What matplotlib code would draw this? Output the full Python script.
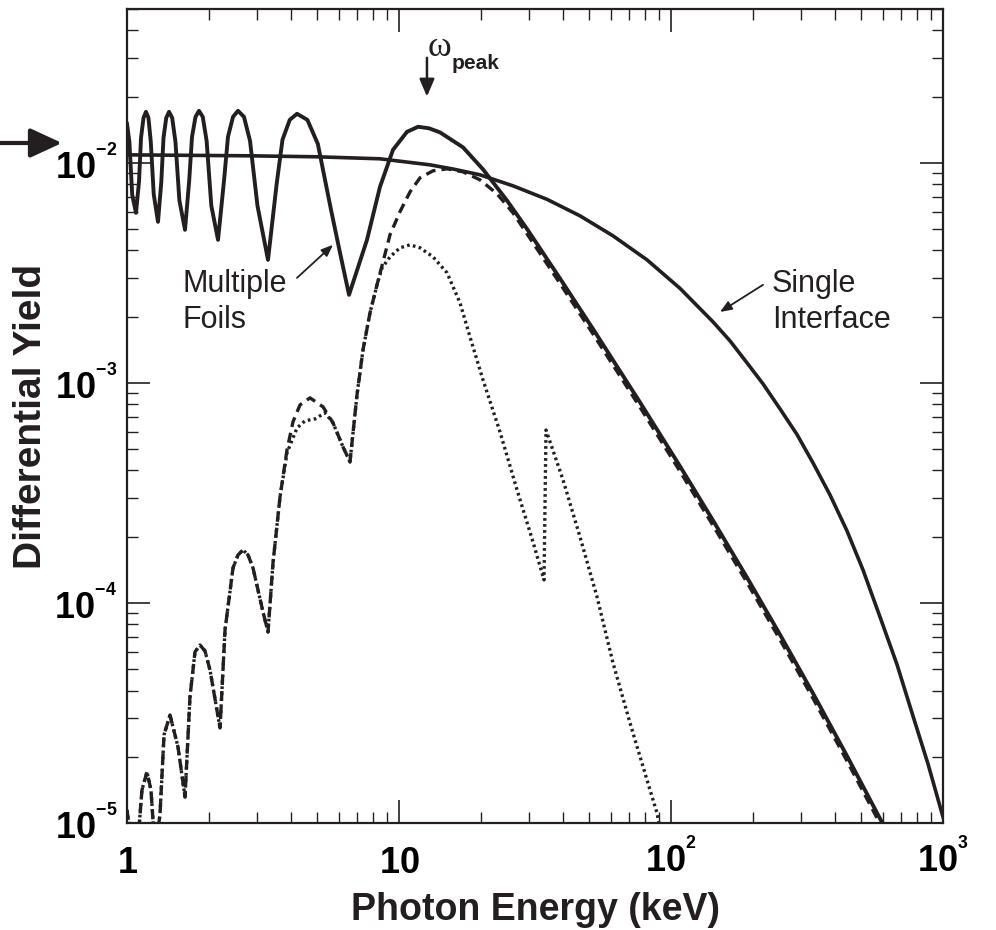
import numpy as np
import matplotlib
matplotlib.use("Agg")
import matplotlib.pyplot as plt
from matplotlib.ticker import FixedLocator, FuncFormatter, LogLocator, NullFormatter
from matplotlib.transforms import ScaledTranslation

plt.rcParams['font.family'] = ['Liberation Sans', 'DejaVu Sans']
plt.rcParams['mathtext.fontset'] = 'custom'
plt.rcParams['mathtext.rm'] = 'Liberation Sans'
plt.rcParams['mathtext.bf'] = 'Liberation Sans:bold'
plt.rcParams['mathtext.it'] = 'Liberation Sans:italic'

INK = '#231f20'

# single interface (solid, smooth)
single_e = [1.000, 2.833, 5.00, 8.514, 13.00, 16.00, 19.85, 26.25, 35.00, 46.29,
            61.20, 81.62, 107.9, 142.7, 164.8, 190.3, 217.9, 251.6, 290.5, 332.7,
            384.2, 443.7, 508.0, 586.7, 677.5, 775.6, 881.0, 1000]
single_y = [0.01087, 0.01076, 0.01065, 0.01043, 0.00979, 0.009343, 0.00882, 0.007860,
            0.006825, 0.005742, 0.004658, 0.003623, 0.002689, 0.001894, 0.001552,
            0.001233, 9.90e-4, 7.62e-4, 5.83e-4, 4.33e-4, 3.097e-4, 2.125e-4,
            1.413e-4, 8.64e-5, 5.25e-5, 3.064e-5, 1.854e-5, 1.065e-5]

# multiple foils (solid, oscillating)
multi_e = [1.000, 1.0205, 1.045, 1.079, 1.107, 1.126, 1.150, 1.174, 1.199, 1.223,
           1.254, 1.300, 1.337, 1.362, 1.394, 1.427, 1.466, 1.507, 1.558, 1.634,
           1.693, 1.734, 1.786, 1.839, 1.899, 1.962, 2.042, 2.161, 2.273, 2.351,
           2.453, 2.559, 2.692, 2.833, 3.018, 3.299, 3.550, 3.729, 3.966, 4.217,
           4.604, 5.029, 5.615, 6.070, 6.551, 7.626, 8.514, 9.504, 10.70, 11.75,
           12.89, 14.15, 17.19, 20.36, 24.95, 29.56, 39.07, 51.68, 76.91, 107.9,
           142.7, 190.3, 251.6, 332.7, 443.7, 586.7, 638.5]
multi_y = [0.01504, 0.01246, 0.007153, 0.005925, 0.008199, 0.01299, 0.01601, 0.01705,
           0.01601, 0.01246, 0.007191, 0.005393, 0.008199, 0.01299, 0.01601, 0.01705,
           0.01601, 0.01246, 0.006755, 0.004960, 0.008286, 0.01313, 0.01618, 0.01723,
           0.01618, 0.01259, 0.006375, 0.004467, 0.008286, 0.01313, 0.01618, 0.01723,
           0.01618, 0.01259, 0.006375, 0.003623, 0.008025, 0.01272, 0.01568, 0.01670,
           0.01568, 0.01220, 0.006178, 0.003899, 0.002512, 0.004467, 0.007779, 0.01146,
           0.01383, 0.01458, 0.01435, 0.01375, 0.01176, 0.009343, 0.006740, 0.005006,
           0.002982, 0.001758, 8.16e-4, 4.18e-4, 2.371e-4, 1.305e-4, 7.18e-5, 3.883e-5,
           2.016e-5, 1.047e-5, 8.58e-6]

# low-energy part shared by the dashed and dotted curves
low_e = [1.000, 1.034, 1.098, 1.135, 1.184, 1.225, 1.267, 1.322, 1.368, 1.439,
         1.540, 1.634, 1.704, 1.778, 1.855, 1.935, 2.019, 2.198, 2.293, 2.453,
         2.559, 2.670, 2.786, 2.906, 3.162, 3.299, 3.442, 3.652]
low_y = [1.146e-5, 8.37e-6, 8.37e-6, 1.413e-5, 1.705e-5, 1.413e-5, 7.54e-6, 1.087e-5,
         2.512e-5, 3.097e-5, 2.215e-5, 1.313e-5, 3.737e-5, 5.99e-5, 6.44e-5, 6.05e-5,
         4.96e-5, 2.702e-5, 7.54e-5, 1.442e-4, 1.652e-4, 1.741e-4, 1.652e-4, 1.442e-4,
         9.10e-5, 7.38e-5, 1.520e-4, 3.03e-4]

dash_e = [3.875, 4.076, 4.325, 4.708, 5.256, 5.720, 6.224, 6.604, 7.008, 7.373,
          7.823, 8.301, 8.733, 9.267, 10.08, 10.98, 11.95, 13.34, 15.02, 17.19,
          19.85, 22.93, 26.25, 31.09, 39.07, 51.68, 76.91, 107.9, 142.7, 190.3,
          251.6, 332.7, 443.7, 586.7, 638.5]
dash_y = [4.96e-4, 6.65e-4, 7.94e-4, 8.55e-4, 7.78e-4, 6.58e-4, 5.12e-4, 4.375e-4,
          8.82e-4, 1.413e-3, 2.080e-3, 2.790e-3, 3.548e-3, 4.71e-3, 5.99e-3, 7.38e-3,
          8.55e-3, 9.20e-3, 9.39e-3, 9.10e-3, 8.37e-3, 7.23e-3, 5.925e-3, 4.329e-3,
          2.830e-3, 1.668e-3, 7.75e-4, 3.964e-4, 2.25e-4, 1.238e-4, 6.81e-5, 3.685e-5,
          1.913e-5, 9.93e-6, 8.2e-6]

dot_e = [3.875, 4.217, 4.512, 4.912, 5.346, 5.720, 6.224, 6.604, 7.008, 7.373,
         7.823, 8.301, 8.660, 9.267, 10.08, 10.98, 11.95, 13.34, 15.02, 16.76,
         18.24, 20.36, 23.51, 27.16, 31.09, 34.13, 34.71, 40.09, 46.29, 53.46,
         61.20, 70.68, 81.62, 88.83, 92.67]
dot_y = [4.81e-4, 6.24e-4, 6.72e-4, 6.86e-4, 7.31e-4, 6.58e-4, 5.12e-4, 4.375e-4,
         8.82e-4, 1.413e-3, 2.080e-3, 2.790e-3, 3.331e-3, 3.738e-3, 4.108e-3, 4.24e-3,
         4.108e-3, 3.738e-3, 3.162e-3, 2.310e-3, 1.618e-3, 1.032e-3, 5.99e-4, 3.263e-4,
         1.894e-4, 1.272e-4, 6.11e-4, 3.623e-4, 1.995e-4, 1.065e-4, 5.34e-5, 2.848e-5,
         1.569e-5, 1.11e-5, 8.37e-6]

x_ticks = [1, 10, 100, 1000]
y_ticks = [1e-5, 1e-4, 1e-3, 1e-2]


def x_label(v, pos):
    n = int(round(np.log10(v)))
    if n == 0:
        return r'$\mathbf{1}$'
    if n == 1:
        return r'$\mathbf{10}$'
    return r'$\mathbf{10^{{}^{%d}}}$' % n


def y_label(v, pos):
    n = int(round(np.log10(v)))
    return r'$\mathbf{10^{{}^{%d}}}$' % n


fig = plt.figure(figsize=(9.96, 9.30), dpi=100)
ax = fig.add_axes([127 / 996, 107 / 930, 816 / 996, 814 / 930])

ax.plot(single_e, single_y, color=INK, lw=2.6)
ax.plot(multi_e, multi_y, color=INK, lw=2.8)
ax.plot(low_e + dash_e, low_y + dash_y, color=INK, lw=2.4, ls=(0, (3, 1.8)))
ax.plot(low_e + dot_e, low_y + dot_y, color=INK, lw=2.4, ls=(0, (0.8, 1.0)))

ax.set_xscale('log')
ax.set_yscale('log')
ax.set_xlim(1, 1000)
ax.set_ylim(1e-5, 5e-2)

ax.xaxis.set_major_locator(FixedLocator(x_ticks))
ax.yaxis.set_major_locator(FixedLocator(y_ticks))
ax.xaxis.set_minor_locator(LogLocator(base=10, subs=np.arange(2, 10), numticks=20))
ax.yaxis.set_minor_locator(LogLocator(base=10, subs=np.arange(2, 10), numticks=20))
ax.xaxis.set_major_formatter(FuncFormatter(x_label))
ax.yaxis.set_major_formatter(FuncFormatter(y_label))
ax.xaxis.set_minor_formatter(NullFormatter())
ax.yaxis.set_minor_formatter(NullFormatter())

for s in ax.spines.values():
    s.set_linewidth(1.6)
    s.set_color(INK)

ax.tick_params(which='both', direction='in', top=True, right=True, color=INK)
ax.tick_params(which='major', length=16.5, width=1.2, labelsize=26)
ax.tick_params(which='minor', length=8, width=1.0)
ax.tick_params(axis='x', which='major', pad=36)
ax.tick_params(axis='y', which='major', pad=7)

# baseline-aligned tick labels like the original
for lab in ax.get_xticklabels():
    lab.set_va('baseline')
for lab in ax.get_yticklabels():
    lab.set_va('baseline')
    lab.set_transform(lab.get_transform() + ScaledTranslation(0, -0.17, fig.dpi_scale_trans))

ax.set_xlabel('Photon Energy (keV)', fontsize=27, fontweight='bold', labelpad=8, color=INK)
ax.set_ylabel('Differential Yield', fontsize=28, fontweight='bold', labelpad=4, color=INK)

# annotations
ax.text(1.593, 2.334e-3, 'Multiple\nFoils', fontsize=22, ha='left', va='center',
        linespacing=1.28, color=INK)
ax.annotate('', xy=(5.72, 4.24e-3), xytext=(4.217, 3.0e-3),
            arrowprops=dict(arrowstyle='-|>,head_length=0.5,head_width=0.2',
                            mutation_scale=14, lw=1.3, color=INK, shrinkA=0, shrinkB=0))

ax.text(235, 2.334e-3, 'Single\nInterface', fontsize=22, ha='left', va='center',
        linespacing=1.28, color=INK)
ax.annotate('', xy=(151.4, 2.10e-3), xytext=(217.9, 2.79e-3),
            arrowprops=dict(arrowstyle='-|>,head_length=0.5,head_width=0.2',
                            mutation_scale=14, lw=1.3, color=INK, shrinkA=0, shrinkB=0))

ax.text(12.78, 0.0335, '\u03c9', fontsize=26, family='Liberation Serif',
        ha='left', va='center', color=INK)
ax.text(15.66, 0.0282, 'peak', fontsize=15, fontweight='bold',
        ha='left', va='center', color=INK)
ax.annotate('', xy=(12.67, 0.0200), xytext=(12.67, 0.0300),
            arrowprops=dict(arrowstyle='-|>,head_length=0.7,head_width=0.3',
                            mutation_scale=15, lw=1.8, color=INK, shrinkA=0, shrinkB=0))

# arrow outside the frame pointing at 10^-2
ax.annotate('', xy=(62, 930 - 143), xycoords='figure pixels',
            xytext=(0, 930 - 143), textcoords='figure pixels', annotation_clip=False,
            arrowprops=dict(arrowstyle='-|>,head_length=0.65,head_width=0.3',
                            mutation_scale=30, lw=3, color=INK, shrinkA=0, shrinkB=0))

fig.savefig('out.png', dpi=100)
